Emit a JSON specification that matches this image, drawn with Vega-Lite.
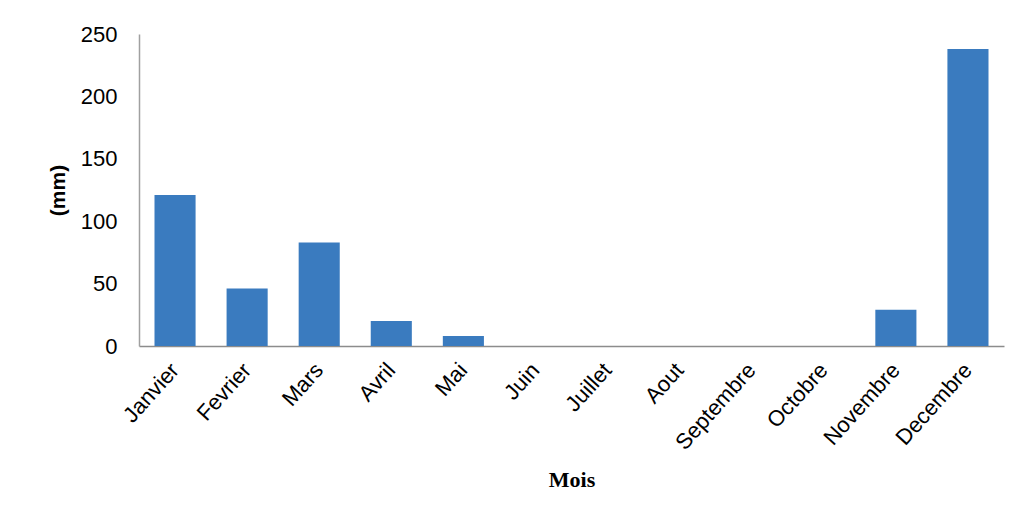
{
  "$schema": "https://vega.github.io/schema/vega-lite/v6.json",
  "width": 865,
  "height": 312,
  "autosize": {"type": "none"},
  "padding": {"left": 139, "top": 34, "right": 14, "bottom": 173},
  "background": "white",
  "data": {
    "values": [
      {"mois": "Janvier", "mm": 121},
      {"mois": "Fevrier", "mm": 46},
      {"mois": "Mars", "mm": 83},
      {"mois": "Avril", "mm": 20},
      {"mois": "Mai", "mm": 8},
      {"mois": "Juin", "mm": 0},
      {"mois": "Juillet", "mm": 0},
      {"mois": "Aout", "mm": 0},
      {"mois": "Septembre", "mm": 0},
      {"mois": "Octobre", "mm": 0},
      {"mois": "Novembre", "mm": 29},
      {"mois": "Decembre", "mm": 238}
    ]
  },
  "mark": {"type": "bar", "color": "#3A7BBF"},
  "encoding": {
    "x": {
      "field": "mois",
      "type": "nominal",
      "sort": null,
      "scale": {"paddingInner": 0.43, "paddingOuter": 0.215},
      "axis": {
        "title": "Mois",
        "labelAngle": -48,
        "labelFont": "Liberation Sans",
        "labelFontSize": 22,
        "labelColor": "#000000",
        "labelPadding": 20,
        "ticks": false,
        "domainColor": "#8c8c8c",
        "domainWidth": 1.5,
        "titleFont": "Liberation Serif",
        "titleFontSize": 22,
        "titleFontWeight": "bold",
        "titleColor": "#000000",
        "titlePadding": 16
      }
    },
    "y": {
      "field": "mm",
      "type": "quantitative",
      "scale": {"domain": [0, 250]},
      "axis": {
        "title": "(mm)",
        "values": [0, 50, 100, 150, 200, 250],
        "grid": false,
        "ticks": false,
        "labelFont": "Liberation Sans",
        "labelFontSize": 22,
        "labelColor": "#000000",
        "labelPadding": 22,
        "domainColor": "#a0a0a0",
        "domainWidth": 1.5,
        "titleFont": "Liberation Sans",
        "titleFontSize": 21,
        "titleFontWeight": "bold",
        "titleColor": "#000000",
        "titlePadding": 12
      }
    }
  },
  "config": {
    "view": {"stroke": null}
  }
}
